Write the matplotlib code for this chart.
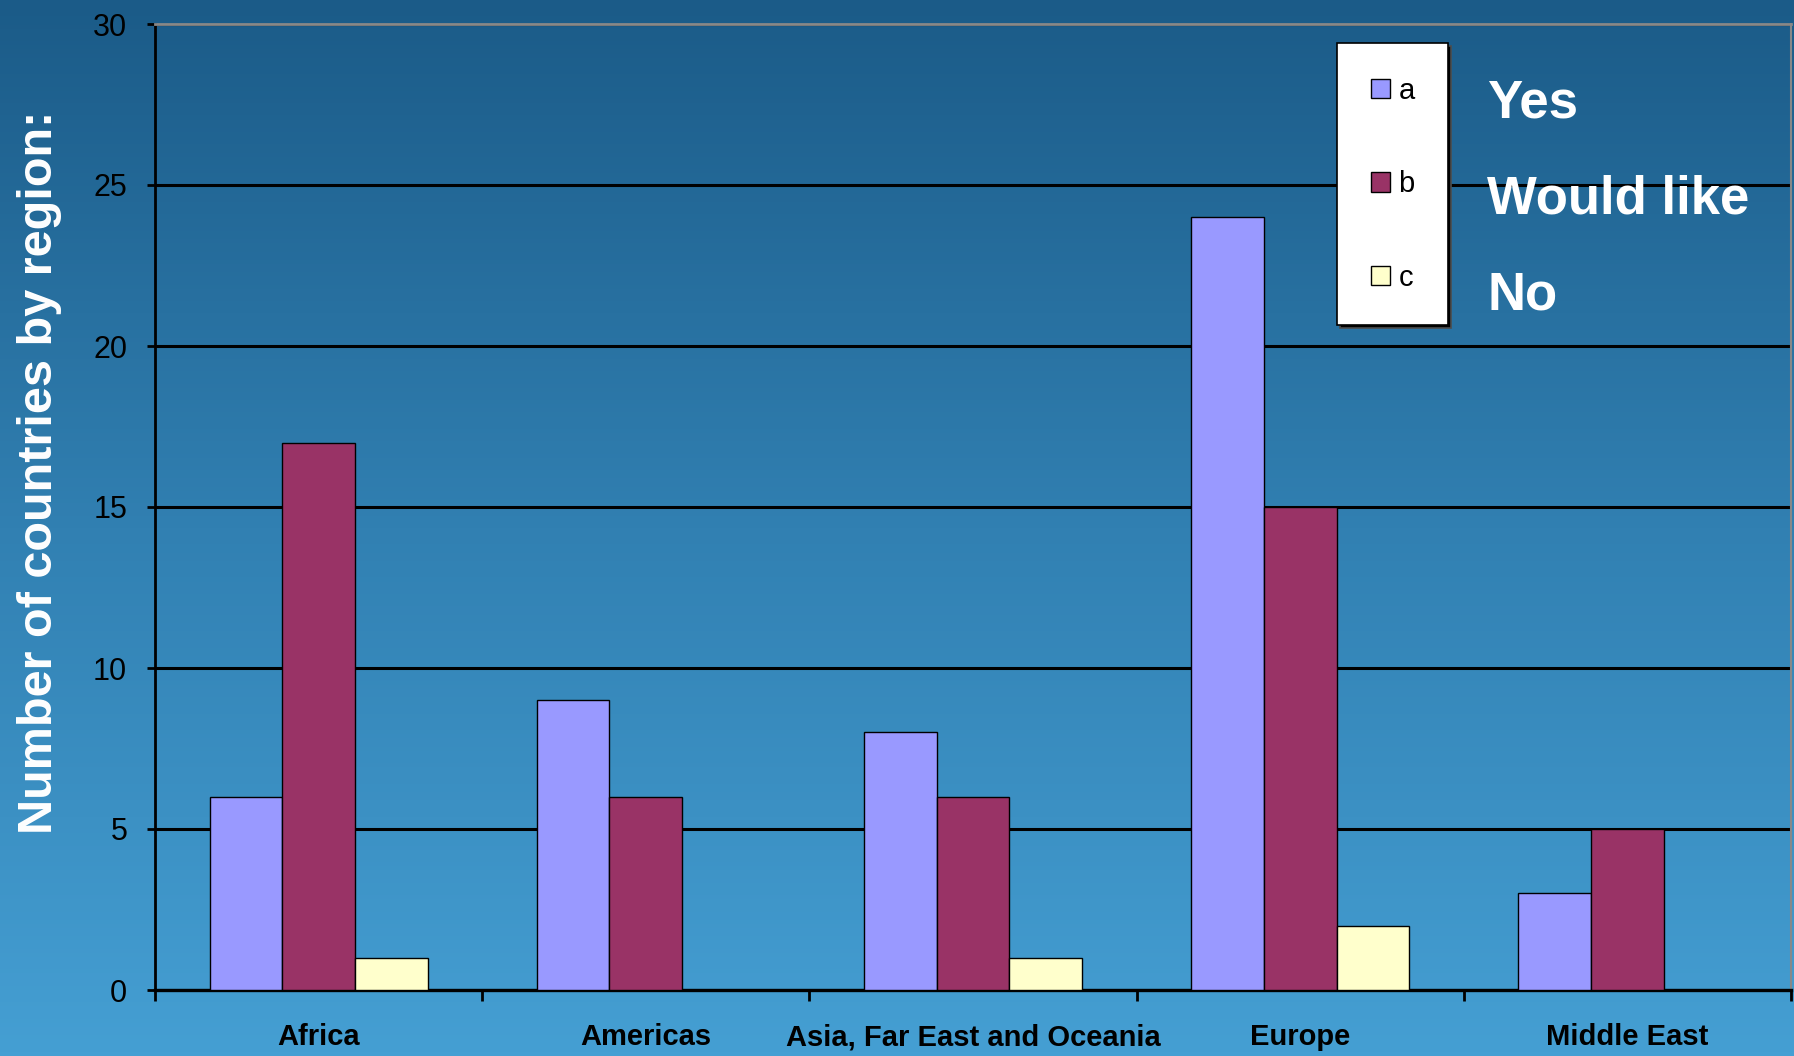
import numpy as np
import matplotlib.pyplot as plt
from matplotlib.colors import LinearSegmentedColormap

regions = ['Africa', 'Americas', 'Asia, Far East and Oceania', 'Europe', 'Middle East']
series_a = [6, 9, 8, 24, 3]    # Yes
series_b = [17, 6, 6, 15, 5]   # Would like
series_c = [1, 0, 1, 2, 0]     # No
legend_keys = ['a', 'b', 'c']
legend_words = ['Yes', 'Would like', 'No']
colors = ['#9999FF', '#993366', '#FFFFCC']

plt.rcParams['font.family'] = ['Liberation Sans', 'DejaVu Sans']

fig = plt.figure(figsize=(17.94, 10.56), dpi=100)

# blue gradient backdrop
bg = fig.add_axes([0, 0, 1, 1], zorder=0)
cmap = LinearSegmentedColormap.from_list('bg', ['#1B5B88', '#3180B2', '#459FD3'])
bg.imshow(np.linspace(0, 1, 256).reshape(-1, 1), aspect='auto', cmap=cmap,
          extent=[0, 1, 0, 1])
bg.axis('off')

ax = fig.add_axes([155 / 1794, 1 - 990 / 1056, (1791 - 155) / 1794, (990 - 24) / 1056], zorder=1)
ax.patch.set_alpha(0)

x = np.arange(len(regions)) + 0.5
w = 2 / 9
handles = []
for i, (vals, col) in enumerate(zip([series_a, series_b, series_c], colors)):
    h = ax.bar(x + (i - 1) * w, vals, width=w, color=col, edgecolor='black',
               linewidth=1.0, zorder=3)
    handles.append(h)

ax.set_xlim(0, len(regions))
ax.set_ylim(0, 30)
ax.set_yticks(range(0, 31, 5))
ax.yaxis.grid(True, color='black', linewidth=2.2)
ax.set_axisbelow(True)

ax.set_xticks(x)
ax.set_xticklabels(regions, fontsize=21, fontweight='bold')
ax.set_xticks(np.arange(len(regions) + 1), minor=True)
ax.tick_params(axis='x', which='major', length=0, pad=24)
ax.tick_params(axis='x', which='minor', length=8, width=2, direction='out', color='black')
ax.tick_params(axis='y', length=6, width=2, direction='out', pad=14, labelsize=22)

ax.spines['left'].set_linewidth(2)
ax.spines['bottom'].set_linewidth(2.4)
ax.spines['top'].set_color('#888888')
ax.spines['top'].set_linewidth(2)
ax.spines['right'].set_color('#888888')
ax.spines['right'].set_linewidth(1.5)

fig.text(40 / 1794, 1 - 472 / 1056, 'Number of countries by region:', rotation=90,
         ha='center', va='center', color='white', fontsize=35, fontweight='bold')

leg = ax.legend(handles, legend_keys, loc='upper left',
                bbox_to_anchor=(1337 / 1794, 1 - 43 / 1056), bbox_transform=fig.transFigure,
                fontsize=21, frameon=True, fancybox=False, borderpad=1.15,
                labelspacing=2.25, handlelength=0.65, handleheight=0.65,
                handletextpad=0.3, borderaxespad=0,
                shadow={'ox': 2, 'oy': -2, 'facecolor': 'black', 'alpha': 1})
leg.get_frame().set_facecolor('white')
leg.get_frame().set_edgecolor('black')
leg.get_frame().set_linewidth(1.2)
leg.set_zorder(5)

for word, yc in zip(legend_words, [104, 200, 296]):
    fig.text(1487 / 1794, 1 - yc / 1056, word, ha='left', va='center',
             color='white', fontsize=38, fontweight='bold')

fig.savefig('out.png', dpi=100)
